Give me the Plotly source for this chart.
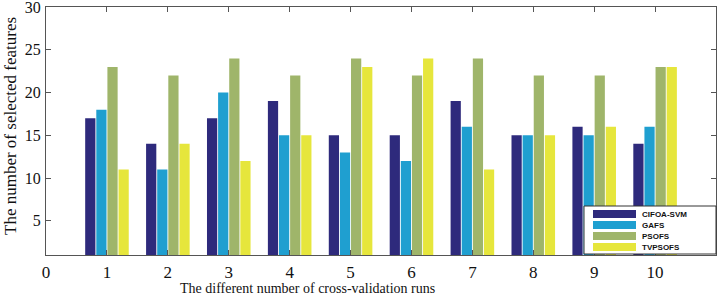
import plotly.graph_objects as go

runs = [1, 2, 3, 4, 5, 6, 7, 8, 9, 10]
cifoa_svm = [17, 14, 17, 19, 15, 15, 19, 15, 16, 14]
gafs = [18, 11, 20, 15, 13, 12, 16, 15, 15, 16]
psofs = [23, 22, 24, 22, 24, 22, 24, 22, 22, 23]
tvpsofs = [11, 14, 12, 15, 23, 24, 11, 15, 16, 23]
series_names = ["CIFOA-SVM", "GAFS", "PSOFS", "TVPSOFS"]
colors = ["#2e2a7c", "#1f9fd0", "#9fb56a", "#e6e63c"]
x_ticks = [0, 1, 2, 3, 4, 5, 6, 7, 8, 9, 10]
y_ticks = [5, 10, 15, 20, 25, 30]
x_title = "The different number of cross-validation runs"
y_title = "The number of selected features"

W, H = 723, 295
ml, mr, mt, mb = 46, 7, 7, 40
pw, ph = W - ml - mr, H - mt - mb

fig = go.Figure()
for name, vals, c in zip(series_names, [cifoa_svm, gafs, psofs, tvpsofs], colors):
    fig.add_trace(go.Bar(x=runs, y=vals, name=name, marker=dict(color=c, line=dict(width=0)),
                         showlegend=False, hoverinfo="skip"))

axis_common = dict(showline=True, linecolor="#555555", linewidth=1, mirror="ticks",
                   ticks="inside", ticklen=5, tickcolor="#555555", showgrid=False, zeroline=False,
                   automargin=False, ticklabeloverflow="allow")
fig.update_xaxes(range=[-0.001, 11], tickvals=x_ticks, ticktext=[str(t) for t in x_ticks],
                 ticklabelstandoff=2,
                 tickfont=dict(family="Liberation Serif", size=17, color="#111111"),
                 **axis_common)
fig.update_yaxes(range=[1, 30.01], tickvals=y_ticks, ticktext=[str(t) for t in y_ticks],
                 ticklabelstandoff=1,
                 tickfont=dict(family="Liberation Serif", size=16, color="#111111"),
                 **axis_common)

def px_x(p):
    return (p - ml) / pw

def px_y(p):
    return (H - mb - p) / ph

shapes = [dict(type="rect", xref="paper", yref="paper", x0=px_x(584), x1=px_x(716),
               y0=px_y(254), y1=px_y(206), line=dict(color="#333333", width=1),
               fillcolor="white", layer="above")]
annotations = [
    dict(xref="paper", yref="paper", x=px_x(307), y=px_y(288), text=x_title, showarrow=False,
         xanchor="center", yanchor="middle",
         font=dict(family="Liberation Serif", size=14, color="#111111")),
    dict(xref="paper", yref="paper", x=px_x(10), y=px_y(126), text=y_title, showarrow=False,
         xanchor="center", yanchor="middle", textangle=-90,
         font=dict(family="Liberation Serif", size=17, color="#111111")),
]
row_y = [214, 225, 236, 247]
for name, c, ry in zip(series_names, colors, row_y):
    shapes.append(dict(type="rect", xref="paper", yref="paper", x0=px_x(593), x1=px_x(636),
                       y0=px_y(ry + 4), y1=px_y(ry - 4), line=dict(width=0), fillcolor=c,
                       layer="above"))
    annotations.append(dict(xref="paper", yref="paper", x=px_x(640), y=px_y(ry), text=name,
                            showarrow=False, xanchor="left", yanchor="middle",
                            font=dict(family="Liberation Sans", size=8, color="#111111",
                                      weight="bold")))

fig.update_layout(width=W, height=H, margin=dict(l=ml, r=mr, t=mt, b=mb),
                  barmode="group", bargap=0.27, bargroupgap=0.08,
                  plot_bgcolor="white", paper_bgcolor="white", hovermode=False,
                  shapes=shapes, annotations=annotations)

fig.write_html("out.html", config={"displayModeBar": False},
               post_script="document.body.style.margin='0';document.body.style.padding='0';")
